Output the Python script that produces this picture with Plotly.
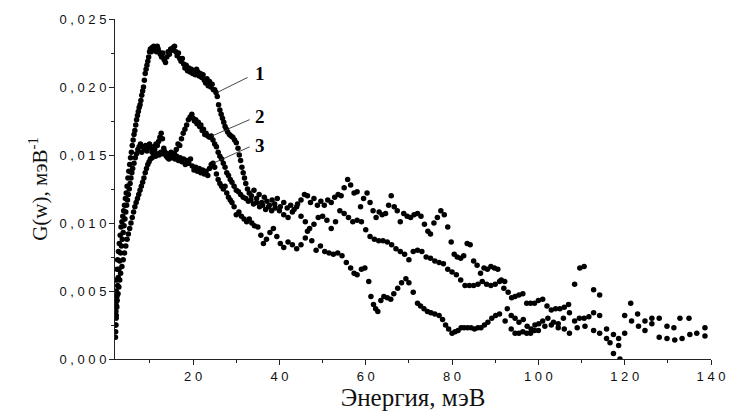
import plotly.graph_objects as go

# ---------------- data ----------------
E1 = [2.0, 2.05, 2.1, 2.15, 2.2, 2.3, 2.4, 2.5, 2.7, 2.9, 3.1, 3.3, 3.5, 3.7, 3.9, 4.1, 4.3, 4.5, 4.7, 4.9,
      5.1, 5.3, 5.5, 5.7, 5.9, 6.1, 6.3, 6.5, 6.7, 6.9, 7.1, 7.3, 7.5, 7.7, 7.9, 8.1, 8.3, 8.5, 8.7, 8.9,
      9.1, 9.3, 9.5, 9.7, 9.9, 10.1, 10.3, 10.5, 10.7, 10.9, 11.1, 11.3, 11.5, 11.7, 11.9, 12.1, 12.4, 12.7, 13.0, 13.3,
      13.6, 13.9, 14.2, 14.5, 14.8, 15.1, 15.4, 15.7, 16.0, 16.3, 16.6, 16.9, 17.2, 17.5, 17.8, 18.1, 18.4, 18.7, 19.0, 19.3,
      19.6, 19.9, 20.2, 20.5, 20.8, 21.1, 21.4, 21.7, 22.0, 22.3, 22.6, 22.9, 23.2, 23.5, 23.8, 24.1, 24.4, 24.7, 25.0, 25.3,
      25.6, 25.9, 26.2, 26.5, 26.8, 27.1, 27.4, 27.7, 28.0, 28.4, 28.8, 29.2, 29.6, 30.0, 30.4, 30.7, 31.0, 31.3, 31.6, 31.9,
      32.2, 32.6, 33.0, 33.5, 34.1, 34.7, 35.3, 35.9, 36.5, 37.1, 37.7, 38.3, 38.9, 39.5, 40.2, 41.0, 41.8, 42.6, 43.4, 44.2,
      45.0, 45.8, 46.5, 47.2, 48.0, 48.8, 49.6, 50.4, 51.2, 52.0, 52.8, 53.6, 54.3, 55.0, 55.8, 56.5, 57.3, 58.0, 58.8, 59.5,
      60.3, 61.0, 61.7, 62.4, 63.1, 63.8, 64.6, 65.3, 65.9, 66.6, 67.3, 68.0, 68.8, 69.6, 70.4, 71.2, 72.0, 72.8, 73.6, 74.4,
      75.0, 75.8, 76.6, 77.4, 78.2, 79.0, 79.8, 80.5, 81.2, 82.0, 82.7, 83.5, 84.2, 85.0, 85.8, 86.6, 87.4, 88.2, 89.0, 89.8,
      90.6, 91.4, 92.2, 93.0, 93.8, 94.6, 95.5, 96.4, 97.3, 98.2, 99.1, 100.0, 101.0, 102.0, 103.0, 104.0, 105.0, 106.0, 107.0, 108.4,
      109.6, 110.6, 112.8, 114.2, 120.0, 121.4, 123.0, 124.7, 126.3, 128.0, 129.8, 131.4, 132.8, 134.9, 138.6]
G1 = [0.0016, 0.0025, 0.0035, 0.0042, 0.0050, 0.0058, 0.0066, 0.0073, 0.0079, 0.0085, 0.0091, 0.0097, 0.0101, 0.0105, 0.0109, 0.0113, 0.0118, 0.0122, 0.0127, 0.0133,
      0.0138, 0.0143, 0.0148, 0.0152, 0.0157, 0.0161, 0.0165, 0.0168, 0.0172, 0.0176, 0.0179, 0.0182, 0.0185, 0.0187, 0.0190, 0.0194, 0.0197, 0.0200, 0.0205, 0.0210,
      0.0213, 0.0216, 0.0219, 0.0222, 0.0226, 0.0228, 0.0226, 0.0229, 0.0228, 0.0230, 0.0227, 0.0229, 0.0226, 0.0230, 0.0228, 0.0226, 0.0224, 0.0222, 0.0225, 0.0220,
      0.0218, 0.0222, 0.0226, 0.0224, 0.0228, 0.0227, 0.0229, 0.0230, 0.0226, 0.0223, 0.0225, 0.0221, 0.0219, 0.0221, 0.0217, 0.0214, 0.0216, 0.0212, 0.0214, 0.0211,
      0.0213, 0.0210, 0.0212, 0.0209, 0.0213, 0.0211, 0.0208, 0.0210, 0.0207, 0.0209, 0.0205, 0.0203, 0.0206, 0.0201, 0.0204, 0.0200, 0.0202, 0.0198, 0.0198, 0.0196,
      0.0193, 0.0187, 0.0183, 0.0180, 0.0177, 0.0174, 0.0171, 0.0169, 0.0167, 0.0165, 0.0164, 0.0163, 0.0161, 0.0159, 0.0155, 0.0150, 0.0146, 0.0141, 0.0137, 0.0133,
      0.0129, 0.0125, 0.0122, 0.0120, 0.0124, 0.0118, 0.0121, 0.0115, 0.0119, 0.0116, 0.0113, 0.0117, 0.0114, 0.0118, 0.0112, 0.0115, 0.0111, 0.0113, 0.0110, 0.0114,
      0.0117, 0.0121, 0.0120, 0.0115, 0.0118, 0.0113, 0.0116, 0.0113, 0.0117, 0.0115, 0.0119, 0.0121, 0.0120, 0.0126, 0.0132, 0.0128, 0.0122, 0.0123, 0.0112, 0.0118,
      0.0122, 0.0115, 0.0109, 0.0104, 0.0108, 0.0106, 0.0107, 0.0113, 0.0120, 0.0112, 0.0109, 0.0101, 0.0107, 0.0105, 0.0104, 0.0106, 0.0107, 0.0105, 0.0099, 0.0094,
      0.0092, 0.0100, 0.0104, 0.0109, 0.0106, 0.0097, 0.0086, 0.0077, 0.0075, 0.0074, 0.0076, 0.0085, 0.0084, 0.0072, 0.0069, 0.0063, 0.0067, 0.0066, 0.0068, 0.0067,
      0.0066, 0.0058, 0.0057, 0.0049, 0.0045, 0.0046, 0.0047, 0.0048, 0.0041, 0.0041, 0.0041, 0.0043, 0.0044, 0.0039, 0.0036, 0.0037, 0.0037, 0.0038, 0.0040, 0.0055,
      0.0067, 0.0068, 0.0051, 0.0047, 0.0032, 0.0041, 0.0033, 0.0028, 0.0030, 0.0030, 0.0024, 0.0023, 0.0030, 0.0030, 0.0023]

E2 = [2.1, 2.2, 2.3, 2.4, 2.6, 2.8, 3.0, 3.2, 3.5, 3.8, 4.1, 4.4, 4.7, 5.0, 5.3, 5.6, 5.9, 6.2, 6.5, 6.8,
      7.1, 7.4, 7.7, 8.0, 8.3, 8.6, 8.9, 9.2, 9.5, 9.8, 10.1, 10.5, 10.9, 11.3, 11.7, 12.1, 12.5, 12.9, 13.3, 13.7,
      14.1, 14.5, 14.9, 15.3, 15.7, 16.1, 16.5, 16.9, 17.3, 17.7, 18.1, 18.5, 18.9, 19.3, 19.7, 20.0, 20.3, 20.6, 20.9, 21.2,
      21.5, 21.8, 22.1, 22.4, 22.7, 23.0, 23.4, 23.8, 24.2, 24.6, 25.0, 25.4, 25.8, 26.2, 26.6, 27.0, 27.4, 27.8, 28.2, 28.6,
      29.0, 29.5, 30.0, 30.5, 31.0, 31.6, 32.2, 32.8, 33.4, 34.0, 34.7, 35.4, 36.1, 36.8, 37.5, 38.2, 39.0, 40.0, 41.0, 42.0,
      43.0, 44.0, 45.0, 46.0, 47.0, 48.0, 49.0, 50.0, 51.0, 52.0, 53.0, 54.0, 55.0, 56.0, 57.0, 58.0, 59.0, 60.0, 61.0, 62.0,
      63.0, 64.0, 65.0, 66.0, 67.0, 68.0, 69.0, 70.0, 71.0, 72.0, 73.0, 74.0, 75.0, 76.0, 77.0, 78.0, 79.0, 80.0, 81.0, 82.0,
      83.0, 84.0, 85.0, 86.0, 87.0, 88.0, 89.0, 90.0, 91.0, 92.0, 92.8, 93.7, 94.6, 95.5, 96.5, 97.4, 98.3, 99.2, 100.1, 101.0,
      102.2, 103.5, 104.6, 105.8, 107.2, 108.4, 109.5, 110.6, 111.7, 112.8, 114.2, 115.8, 117.4, 118.6, 120.0, 121.6, 123.2, 124.7, 126.3, 128.0,
      129.8, 131.6, 133.3, 135.1, 136.7, 138.6]
G2 = [0.0025, 0.0032, 0.0038, 0.0043, 0.0048, 0.0053, 0.0058, 0.0063, 0.0068, 0.0073, 0.0078, 0.0083, 0.0088, 0.0092, 0.0096, 0.0100, 0.0104, 0.0108, 0.0112, 0.0115,
      0.0118, 0.0121, 0.0124, 0.0127, 0.0130, 0.0133, 0.0137, 0.0140, 0.0143, 0.0145, 0.0147, 0.0148, 0.0150, 0.0149, 0.0151, 0.0150, 0.0152, 0.0151, 0.0153, 0.0150,
      0.0148, 0.0150, 0.0152, 0.0149, 0.0151, 0.0154, 0.0158, 0.0157, 0.0162, 0.0166, 0.0169, 0.0172, 0.0176, 0.0178, 0.0180, 0.0177, 0.0175, 0.0176, 0.0173, 0.0174,
      0.0171, 0.0172, 0.0168, 0.0169, 0.0165, 0.0166, 0.0164, 0.0163, 0.0164, 0.0161, 0.0158, 0.0156, 0.0152, 0.0149, 0.0147, 0.0144, 0.0141, 0.0137, 0.0135, 0.0132,
      0.0130, 0.0127, 0.0124, 0.0123, 0.0121, 0.0119, 0.0118, 0.0116, 0.0117, 0.0114, 0.0115, 0.0112, 0.0113, 0.0110, 0.0112, 0.0109, 0.0111, 0.0109, 0.0106, 0.0104,
      0.0108, 0.0112, 0.0105, 0.0101, 0.0096, 0.0099, 0.0104, 0.0105, 0.0102, 0.0096, 0.0101, 0.0109, 0.0107, 0.0104, 0.0101, 0.0102, 0.0101, 0.0095, 0.0090, 0.0088,
      0.0087, 0.0087, 0.0086, 0.0084, 0.0081, 0.0079, 0.0077, 0.0073, 0.0079, 0.0080, 0.0079, 0.0075, 0.0074, 0.0072, 0.0071, 0.0070, 0.0066, 0.0064, 0.0062, 0.0058,
      0.0054, 0.0054, 0.0054, 0.0055, 0.0057, 0.0055, 0.0054, 0.0055, 0.0057, 0.0052, 0.0037, 0.0032, 0.0030, 0.0027, 0.0029, 0.0024, 0.0022, 0.0025, 0.0026, 0.0028,
      0.0030, 0.0027, 0.0026, 0.0030, 0.0034, 0.0028, 0.0030, 0.0030, 0.0031, 0.0034, 0.0032, 0.0022, 0.0018, 0.0015, 0.0019, 0.0028, 0.0024, 0.0021, 0.0026, 0.0016,
      0.0015, 0.0014, 0.0015, 0.0018, 0.0019, 0.0017]

E3 = [2.05, 2.15, 2.25, 2.35, 2.5, 2.65, 2.8, 3.0, 3.2, 3.4, 3.6, 3.8, 4.0, 4.2, 4.4, 4.6, 4.8, 5.0, 5.2, 5.4,
      5.6, 5.8, 6.0, 6.3, 6.6, 6.9, 7.2, 7.5, 7.8, 8.1, 8.4, 8.7, 9.0, 9.3, 9.6, 9.9, 10.2, 10.5, 10.8, 11.1,
      11.4, 11.7, 12.0, 12.3, 12.6, 12.9, 13.2, 13.5, 13.8, 14.1, 14.4, 14.7, 15.0, 15.4, 15.8, 16.2, 16.6, 17.0, 17.4, 17.8,
      18.2, 18.6, 19.0, 19.4, 19.8, 20.2, 20.6, 21.0, 21.4, 21.8, 22.2, 22.6, 23.0, 23.4, 23.8, 24.2, 24.6, 25.0, 25.4, 25.8,
      26.2, 26.6, 27.0, 27.4, 27.8, 28.2, 28.6, 29.0, 29.5, 30.0, 30.6, 31.2, 31.8, 32.4, 33.0, 33.6, 34.2, 35.0, 35.7, 36.3,
      37.0, 37.8, 38.6, 39.4, 40.2, 41.0, 42.0, 43.0, 44.0, 45.0, 46.0, 46.5, 47.5, 48.5, 49.5, 50.5, 51.5, 52.5, 53.5, 54.5,
      55.5, 56.5, 57.3, 58.0, 59.0, 59.8, 60.7, 61.2, 61.8, 62.3, 62.8, 63.5, 64.2, 65.0, 65.8, 66.5, 67.4, 68.3, 69.3, 70.0,
      71.0, 72.0, 72.7, 73.5, 74.3, 75.1, 76.0, 77.0, 77.8, 78.5, 79.2, 80.0, 80.7, 81.4, 82.1, 82.8, 83.6, 84.4, 85.2, 86.0,
      86.7, 87.5, 88.3, 89.2, 90.1, 91.0, 92.3, 93.7, 94.6, 95.5, 96.4, 97.3, 98.2, 99.1, 100.0, 101.5, 103.0, 104.6, 106.0, 107.2,
      109.0, 110.8, 112.8, 114.2, 115.8, 116.6, 117.4, 118.6, 118.9]
G3 = [0.0020, 0.0030, 0.0039, 0.0046, 0.0054, 0.0060, 0.0066, 0.0072, 0.0078, 0.0083, 0.0088, 0.0093, 0.0098, 0.0103, 0.0108, 0.0113, 0.0117, 0.0121, 0.0125, 0.0129,
      0.0133, 0.0137, 0.0140, 0.0144, 0.0148, 0.0151, 0.0154, 0.0156, 0.0158, 0.0152, 0.0156, 0.0154, 0.0157, 0.0153, 0.0156, 0.0158, 0.0155, 0.0152, 0.0156, 0.0154,
      0.0158, 0.0157, 0.0160, 0.0163, 0.0166, 0.0162, 0.0155, 0.0152, 0.0149, 0.0151, 0.0147, 0.0150, 0.0148, 0.0151, 0.0147, 0.0149, 0.0146, 0.0148, 0.0145, 0.0147,
      0.0143, 0.0146, 0.0144, 0.0147, 0.0142, 0.0139, 0.0141, 0.0138, 0.0140, 0.0137, 0.0139, 0.0136, 0.0138, 0.0135, 0.0140, 0.0143, 0.0144, 0.0141, 0.0136, 0.0132,
      0.0129, 0.0127, 0.0125, 0.0127, 0.0122, 0.0119, 0.0117, 0.0115, 0.0112, 0.0106, 0.0108, 0.0105, 0.0103, 0.0101, 0.0103, 0.0100, 0.0098, 0.0097, 0.0091, 0.0085,
      0.0088, 0.0093, 0.0096, 0.0090, 0.0085, 0.0082, 0.0086, 0.0084, 0.0081, 0.0084, 0.0089, 0.0094, 0.0087, 0.0080, 0.0083, 0.0079, 0.0078, 0.0077, 0.0078, 0.0076,
      0.0071, 0.0067, 0.0063, 0.0062, 0.0066, 0.0067, 0.0057, 0.0046, 0.0040, 0.0037, 0.0035, 0.0043, 0.0046, 0.0045, 0.0044, 0.0048, 0.0052, 0.0056, 0.0059, 0.0056,
      0.0049, 0.0041, 0.0039, 0.0037, 0.0035, 0.0034, 0.0033, 0.0032, 0.0029, 0.0025, 0.0022, 0.0019, 0.0020, 0.0021, 0.0023, 0.0023, 0.0023, 0.0023, 0.0022, 0.0023,
      0.0023, 0.0025, 0.0027, 0.0030, 0.0032, 0.0033, 0.0028, 0.0022, 0.0019, 0.0019, 0.0020, 0.0019, 0.0019, 0.0021, 0.0021, 0.0024, 0.0025, 0.0023, 0.0022, 0.0019,
      0.0023, 0.0024, 0.0021, 0.0019, 0.0015, 0.0012, 0.0004, 0.0010, 0.0000]

# curve labels and their leader lines (data coordinates)
label_text = ["1", "2", "3"]
label_E = [33.9, 33.9, 33.9]
label_G = [0.0210, 0.0178, 0.0157]
pointer_E = [25.6, 24.4, 24.7]
pointer_G = [0.0196, 0.0164, 0.0144]
leader_end_E = [32.6, 33.1, 33.1]
leader_end_G = [0.0207, 0.0176, 0.0156]

x_ticks = [20, 40, 60, 80, 100, 120, 140]
y_ticks = [0.000, 0.005, 0.010, 0.015, 0.020, 0.025]


def spaced(s):
    return " ".join(list(s))


fig = go.Figure()
for E, G in [(E1, G1), (E2, G2), (E3, G3)]:
    fig.add_trace(go.Scatter(
        x=E, y=G, mode="markers",
        marker=dict(symbol="circle", size=5.5, color="black", line=dict(width=0)),
        hoverinfo="skip", showlegend=False))

for t, lx, ly, px, py, ex, ey in zip(label_text, label_E, label_G, pointer_E, pointer_G,
                                     leader_end_E, leader_end_G):
    fig.add_shape(type="line", xref="x", yref="y", x0=px, y0=py, x1=ex, y1=ey,
                  line=dict(color="#333333", width=0.9))
    fig.add_annotation(
        x=lx, y=ly, xref="x", yref="y", text="<b>%s</b>" % t, showarrow=False,
        xanchor="left", yanchor="middle",
        font=dict(family="Liberation Serif", size=19, color="black"))

serif = "Liberation Serif"
sans = "Liberation Sans"

fig.update_layout(
    width=737, height=415,
    margin=dict(l=115, r=26, t=15, b=51),
    paper_bgcolor="white", plot_bgcolor="white",
    showlegend=False,
    xaxis=dict(
        range=[1.9, 140], showline=True, linecolor="#222222", linewidth=1,
        showgrid=False, zeroline=False,
        tickmode="array", tickvals=x_ticks, ticktext=[spaced(str(v)) for v in x_ticks],
        ticks="outside", ticklen=5, tickwidth=1, tickcolor="#222222",
        minor=dict(ticks="outside", ticklen=3, dtick=10, tick0=0, tickcolor="#222222", showgrid=False),
        tickfont=dict(family=sans, size=13, color="#111111"),
        title=dict(text="Энергия, мэВ", font=dict(family=serif, size=25, color="#111111"), standoff=2),
    ),
    yaxis=dict(
        range=[0, 0.025], showline=True, linecolor="#222222", linewidth=1,
        showgrid=False, zeroline=False,
        tickmode="array", tickvals=y_ticks,
        ticktext=[spaced(("%.3f" % v).replace(".", ",")) for v in y_ticks],
        ticks="outside", ticklen=5, tickwidth=1, tickcolor="#222222",
        minor=dict(ticks="outside", ticklen=3, dtick=0.0025, tick0=0, tickcolor="#222222", showgrid=False),
        tickfont=dict(family=sans, size=13, color="#111111"),
        title=dict(text="G(w), мэВ<sup>-1</sup>", font=dict(family=serif, size=21, color="#111111"), standoff=6),
    ),
)

fig.write_html("out.html")
